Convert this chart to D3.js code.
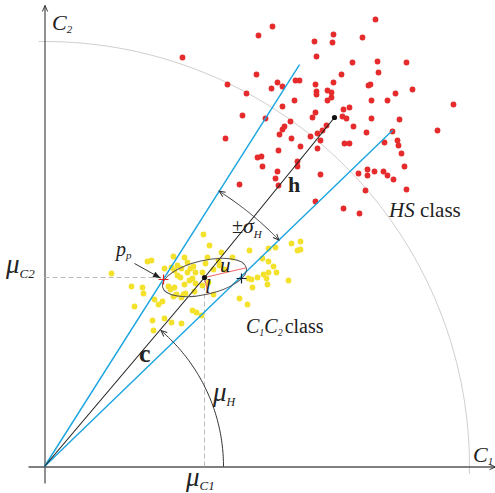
<!DOCTYPE html>
<html><head><meta charset="utf-8">
<script src="https://cdn.jsdelivr.net/npm/d3@7"></script>
<style>
html,body{margin:0;padding:0;background:#fff;}
svg{display:block;}
text{font-family:"Liberation Serif","Times New Roman",serif;fill:#222;}
</style>
</head><body>
<svg id="chart" width="495" height="493"></svg>
<script>
// ---------- data (C1, C2 in arbitrary units) ----------
const hsPoints = [
 [138,409],[228,440],[214,431],[331,447],[289,432],[270,425],[288,424],[318,429],[272,410],[308,404],
 [333,405],[362,404],[212,392],[183,382],[202,373],[233,384],[227,378],[238,380],[251,386],[255,386],
 [271,382],[289,384],[297,392],[334,394],[324,381],[326,382],[368,377],[351,373],[283,376],[287,374],
 [272,375],[272,372],[287,369],[283,366],[327,366],[343,366],[409,362],[250,366],[238,360],[198,351],
 [221,348],[271,354],[268,349],[299,357],[305,359],[298,350],[302,348],[327,348],[355,347],[246,345],
 [240,340],[238,337],[235,332],[309,340],[282,341],[278,336],[273,333],[266,330],[322,334],[348,335],
 [393,336],[181,328],[247,328],[256,320],[276,326],[273,318],[300,323],[305,323],[340,324],[353,326],
 [354,321],[234,316],[357,313],[213,309],[217,310],[253,305],[253,300],[218,300],[360,300],[233,295],
 [231,288],[234,281],[276,292],[314,293],[323,297],[323,291],[330,295],[339,295],[343,291],[349,287],
 [195,282],[321,276],[362,277],[271,265],[299,258],[315,253]
];
const c1c2Points = [
 [67,193],[103,205],[107,206],[129,210],[140,209],[120,198],[127,199],[133,201],[130,196],[133,191],
 [137,198],[143,204],[146,198],[149,200],[151,194],[143,194],[136,189],[140,182],[145,186],[148,188],
 [151,183],[124,180],[126,177],[130,179],[132,172],[129,170],[137,169],[139,172],[141,173],[150,175],
 [87,180],[98,179],[99,173],[90,160],[110,167],[118,165],[114,162],[120,148],[127,144],[137,143],
 [109,136],[148,156],[152,154],[157,151],[108,146],[159,232],[165,221],[177,214],[205,216],[188,209],
 [163,209],[161,203],[174,206],[175,201],[180,197],[169,197],[158,194],[164,184],[169,172],[158,181],
 [218,208],[224,218],[231,219],[224,205],[229,200],[224,194],[232,194],[219,192],[213,189],[207,187],
 [204,188],[208,179],[222,188],[223,182],[244,186],[247,223],[256,225],[253,216],[256,217],[195,168],
 [203,162]
];
const meanC = [160, 189];          // centre of C1C2 class  (mu_C1, mu_C2)
const meanH = [290, 349];          // end of vector h
const boundAngles = [44.0, 57.6];  // degrees: mu_H -/+ sigma_H
const boundLengths = [484, 476];
const refRadius = 425;
const refArcAngles = [-1.0, 90.8];
const muHRadius = 179;
const muHAngle = 49.4;
const sigmaRadius = 326;
const ellipseAxes = [43, 17];      // semi-axes u, l
const ellipseAngle = 13;           // degrees
const ppPoint = [119, 187];
const crossPoint = [197, 188];

// ---------- scales & axes ----------
const svg = d3.select("#chart");
const x = d3.scaleLinear().domain([-16.5, 450.5]).range([28, 495]);
const y = d3.scaleLinear().domain([-16.5, 461.5]).range([483, 5]);
const rad = d => d * Math.PI / 180;
const polar = (r, a) => [r * Math.cos(rad(a)), r * Math.sin(rad(a))];
const line = d3.line().x(d => x(d[0])).y(d => y(d[1]));
const arcPts = (r, a0, a1) => d3.range(0, 61).map(i => polar(r, a0 + (a1 - a0) * i / 60));

const defs = svg.append("defs");
function marker(id, color, filled, size) {
  const m = defs.append("marker").attr("id", id).attr("viewBox", "-10 -5 12 10")
    .attr("refX", 0).attr("refY", 0).attr("markerWidth", size).attr("markerHeight", size)
    .attr("markerUnits", "userSpaceOnUse").attr("orient", "auto-start-reverse");
  if (filled) m.append("path").attr("d", "M0,0L-9,-3.5L-9,3.5Z").attr("fill", color);
  else m.append("path").attr("d", "M-8,-3.5L0,0L-8,3.5").attr("fill", "none").attr("stroke", color).attr("stroke-width", 1.3);
}
marker("axArrow", "#333", false, 9);
marker("open", "#333", false, 9);
marker("fill", "#222", true, 10);

// reference quarter circle
svg.append("path").attr("d", line(arcPts(refRadius, refArcAngles[0], refArcAngles[1])))
  .attr("fill", "none").attr("stroke", "#cfcfcf").attr("stroke-width", 1);

// axes (no ticks)
const gx = svg.append("g").attr("transform", `translate(0,${y(0)})`)
  .call(d3.axisBottom(x).tickValues([]).tickSizeOuter(0));
gx.select(".domain").attr("stroke", "#555").attr("stroke-width", 1.3).attr("marker-end", "url(#axArrow)");
const gy = svg.append("g").attr("transform", `translate(${x(0)},0)`)
  .call(d3.axisLeft(y).tickValues([]).tickSizeOuter(0));
gy.select(".domain").attr("stroke", "#555").attr("stroke-width", 1.3).attr("marker-end", "url(#axArrow)");

// dashed guides to mu_C1 and mu_C2
svg.append("path").attr("d", line([[0, meanC[1]], [ppPoint[0], meanC[1]]]))
  .attr("stroke", "#bbb").attr("stroke-dasharray", "5,3").attr("fill", "none");
svg.append("path").attr("d", line([[meanC[0], meanC[1]], [meanC[0], -3]]))
  .attr("stroke", "#bbb").attr("stroke-dasharray", "5,3").attr("fill", "none");

// points
svg.append("g").selectAll("circle").data(c1c2Points).join("circle")
  .attr("cx", d => x(d[0])).attr("cy", d => y(d[1])).attr("r", 2.9).attr("fill", "#f4e12c");
svg.append("g").selectAll("circle").data(hsPoints).join("circle")
  .attr("cx", d => x(d[0])).attr("cy", d => y(d[1])).attr("r", 2.9).attr("fill", "#e52b2b");

// boundary lines (blue)
boundAngles.forEach((a, i) => {
  svg.append("path").attr("d", line([[0, 0], polar(boundLengths[i], a)]))
    .attr("stroke", "#1ba5e0").attr("stroke-width", 1.4).attr("fill", "none");
});

// vectors c and h
svg.append("path").attr("d", line([[0, 0], meanC, meanH]))
  .attr("stroke", "#222").attr("stroke-width", 1.1).attr("fill", "none");

// ellipse
const ell = svg.append("g").attr("transform", `translate(${x(meanC[0])},${y(meanC[1])}) rotate(${-ellipseAngle})`);
ell.append("ellipse").attr("rx", x(ellipseAxes[0]) - x(0)).attr("ry", x(ellipseAxes[1]) - x(0))
  .attr("fill", "none").attr("stroke", "#555").attr("stroke-width", 1);
const uEnd = [meanC[0] + ellipseAxes[0] * Math.cos(rad(ellipseAngle)), meanC[1] + ellipseAxes[0] * Math.sin(rad(ellipseAngle))];
const lEnd = [meanC[0] + ellipseAxes[1] * Math.sin(rad(ellipseAngle)), meanC[1] - ellipseAxes[1] * Math.cos(rad(ellipseAngle))];
[uEnd, lEnd].forEach(e => svg.append("path").attr("d", line([meanC, e]))
  .attr("stroke", "#f06a6a").attr("stroke-width", 1.1).attr("fill", "none"));

// mean dots
[meanC, meanH].forEach(p => svg.append("circle").attr("cx", x(p[0])).attr("cy", y(p[1])).attr("r", 2.6).attr("fill", "#111"));

// crosses
function cross(p, color) {
  const cx = x(p[0]), cy = y(p[1]), s = 5;
  svg.append("path").attr("d", `M${cx - s},${cy}H${cx + s}M${cx},${cy - s}V${cy + s}`)
    .attr("stroke", color).attr("stroke-width", 1.2);
}
cross(ppPoint, "#e02020");
cross(crossPoint, "#10203a");

// angle arcs
svg.append("path").attr("d", line(arcPts(muHRadius, 0, muHAngle)))
  .attr("fill", "none").attr("stroke", "#333").attr("stroke-width", 1).attr("marker-end", "url(#open)");
svg.append("path").attr("d", line(arcPts(sigmaRadius, boundAngles[0], boundAngles[1])))
  .attr("fill", "none").attr("stroke", "#333").attr("stroke-width", 1)
  .attr("marker-start", "url(#open)").attr("marker-end", "url(#open)");

// p_p arrow
svg.append("path").attr("d", line([[ppPoint[0] - 29, ppPoint[1] + 16], [ppPoint[0] - 3, ppPoint[1] + 1.5]]))
  .attr("stroke", "#333").attr("stroke-width", 1).attr("marker-end", "url(#fill)");

// ---------- labels ----------
function label(px, py, parts) {
  const t = svg.append("text").attr("x", px).attr("y", py);
  parts.forEach(p => {
    const s = t.append("tspan").text(p.t).attr("font-size", p.size);
    if (p.italic) s.attr("font-style", "italic");
    if (p.bold) s.attr("font-weight", "bold");
    if (p.dy) s.attr("dy", p.dy);
    if (p.dx) s.attr("dx", p.dx);
  });
  return t;
}
label(52, 30, [{t: "C", size: 22, italic: true}, {t: "2", size: 11, italic: true, dy: 3}]);
label(473, 462, [{t: "C", size: 22, italic: true}, {t: "1", size: 11, italic: true, dy: 3}]);
label(6, 273, [{t: "μ", size: 27, italic: true}, {t: "C2", size: 13, italic: true, dy: 5}]);
label(186, 486, [{t: "μ", size: 27, italic: true}, {t: "C1", size: 13, italic: true, dy: 4}]);
label(213, 401, [{t: "μ", size: 27, italic: true}, {t: "H", size: 12, italic: true, dy: 5}]);
label(232, 233, [{t: "±", size: 20}, {t: "σ", size: 22, italic: true}, {t: "H", size: 11, italic: true, dy: 5}]);
label(288, 192, [{t: "h", size: 22, bold: true}]);
label(139, 362, [{t: "c", size: 26, bold: true}]);
label(116, 256, [{t: "p", size: 20, italic: true}, {t: "p", size: 11, italic: true, dy: 3}]);
label(220, 272, [{t: "u", size: 21, italic: true}]);
label(205, 293, [{t: "l", size: 21, italic: true}]);
label(389, 217, [{t: "HS", size: 21, italic: true}, {t: " class", size: 21}]);
label(246, 333, [{t: "C", size: 20, italic: true}, {t: "1", size: 10, italic: true, dy: 3},
                 {t: "C", size: 20, italic: true, dy: -3}, {t: "2", size: 10, italic: true, dy: 3},
                 {t: "class", size: 20, dy: -3, dx: 2}]);
</script>
</body></html>
